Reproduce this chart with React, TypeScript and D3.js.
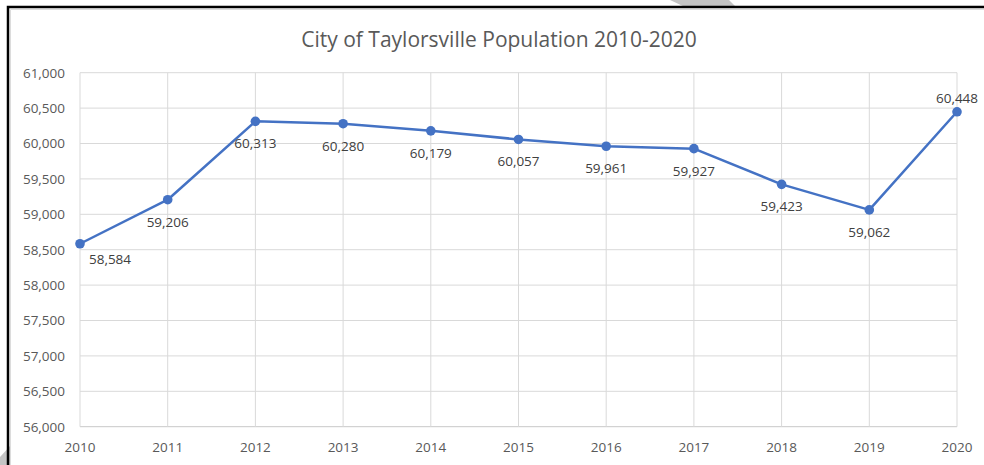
import React, { useRef, useEffect } from 'react';
import * as d3 from 'd3';

const years = [2010, 2011, 2012, 2013, 2014, 2015, 2016, 2017, 2018, 2019, 2020];
const population = [58584, 59206, 60313, 60280, 60179, 60057, 59961, 59927, 59423, 59062, 60448];
const yTicks = [56000, 56500, 57000, 57500, 58000, 58500, 59000, 59500, 60000, 60500, 61000];
const title = 'City of Taylorsville Population 2010-2020';

const W = 984;
const H = 465;

export default function App() {
  const ref = useRef<SVGSVGElement>(null);

  useEffect(() => {
    if (!ref.current) return;
    const svg = d3.select(ref.current);
    svg.selectAll('*').remove();

    const font = '"Open Sans", "Liberation Sans", sans-serif';
    const margin = { top: 72.7, right: 27, bottom: 38.3, left: 80 };
    const innerW = W - margin.left - margin.right;
    const innerH = H - margin.top - margin.bottom;

    svg.append('rect').attr('width', W).attr('height', H).attr('fill', '#fff');

    // page decoration: gray slivers + black frame
    svg.append('polygon').attr('points', '670,0 729,0 736,7 685,7').attr('fill', '#c4c4c4');
    svg.append('polygon').attr('points', '0,457 10,446 10,465 0,465').attr('fill', '#c4c4c4');
    svg.append('path')
      .attr('d', `M8,${H} L8,7 L${W},7`)
      .attr('fill', 'none')
      .attr('stroke', '#000')
      .attr('stroke-width', 2.5);
    svg.append('path')
      .attr('d', `M10.5,${H} L10.5,9.5 L${W},9.5`)
      .attr('fill', 'none')
      .attr('stroke', '#dcdcdc')
      .attr('stroke-width', 1);

    svg.append('text')
      .attr('x', 499)
      .attr('y', 47)
      .attr('text-anchor', 'middle')
      .attr('font-family', font)
      .attr('font-size', '21px')
      .attr('fill', '#595959')
      .text(title);

    const g = svg.append('g').attr('transform', `translate(${margin.left},${margin.top})`);

    const x = d3.scaleLinear().domain([years[0], years[years.length - 1]]).range([0, innerW]);
    const y = d3.scaleLinear().domain([yTicks[0], yTicks[yTicks.length - 1]]).range([innerH, 0]);

    // grid
    g.selectAll('.hgrid')
      .data(yTicks)
      .enter()
      .append('line')
      .attr('x1', 0).attr('x2', innerW)
      .attr('y1', (d) => y(d)).attr('y2', (d) => y(d))
      .attr('stroke', (d) => (d === yTicks[0] ? '#c8c8c8' : '#d9d9d9'))
      .attr('stroke-width', 1);

    g.selectAll('.vgrid')
      .data(years)
      .enter()
      .append('line')
      .attr('x1', (d) => x(d)).attr('x2', (d) => x(d))
      .attr('y1', 0).attr('y2', innerH)
      .attr('stroke', '#d9d9d9')
      .attr('stroke-width', 1);

    // y labels
    g.selectAll('.ylab')
      .data(yTicks)
      .enter()
      .append('text')
      .attr('x', -15)
      .attr('y', (d) => y(d))
      .attr('text-anchor', 'end')
      .attr('dominant-baseline', 'central')
      .attr('font-family', font)
      .attr('font-size', '13.5px')
      .attr('fill', '#595959')
      .text((d) => d3.format(',')(d));

    // x labels
    g.selectAll('.xlab')
      .data(years)
      .enter()
      .append('text')
      .attr('x', (d) => x(d))
      .attr('y', innerH + 20)
      .attr('text-anchor', 'middle')
      .attr('dominant-baseline', 'central')
      .attr('font-family', font)
      .attr('font-size', '13.5px')
      .attr('fill', '#595959')
      .text((d) => String(d));

    const pts = years.map((yr, i) => ({ yr, v: population[i], i }));

    const line = d3.line<{ yr: number; v: number }>()
      .x((d) => x(d.yr))
      .y((d) => y(d.v));

    g.append('path')
      .datum(pts)
      .attr('d', line)
      .attr('fill', 'none')
      .attr('stroke', '#4472c4')
      .attr('stroke-width', 2.5)
      .attr('stroke-linejoin', 'round');

    g.selectAll('.dot')
      .data(pts)
      .enter()
      .append('circle')
      .attr('cx', (d) => x(d.yr))
      .attr('cy', (d) => y(d.v))
      .attr('r', 4.8)
      .attr('fill', '#4472c4');

    // data labels: below, except first (nudged right) and last (above)
    const last = pts.length - 1;
    g.selectAll('.val')
      .data(pts)
      .enter()
      .append('text')
      .attr('x', (d) => x(d.yr) + (d.i === 0 ? 30 : 0))
      .attr('y', (d) => y(d.v) + (d.i === last ? -14 : d.i === 0 ? 15 : 22))
      .attr('text-anchor', 'middle')
      .attr('dominant-baseline', 'central')
      .attr('font-family', font)
      .attr('font-size', '13.5px')
      .attr('fill', '#404040')
      .text((d) => d3.format(',')(d.v));
  }, []);

  return (
    <svg
      ref={ref}
      width={W}
      height={H}
      style={{ position: 'absolute', left: 0, top: 0, display: 'block' }}
    />
  );
}
